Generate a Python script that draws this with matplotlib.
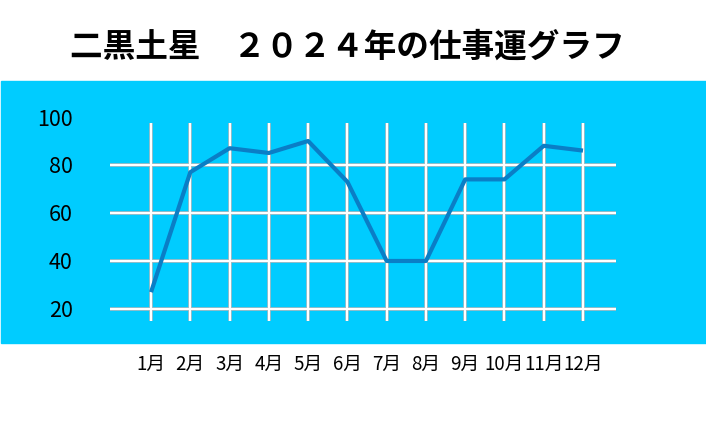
import matplotlib
matplotlib.use('Agg')
import matplotlib.pyplot as plt
from matplotlib.patches import Rectangle

plt.rcParams['font.family'] = ['Noto Sans CJK JP', 'DejaVu Sans']

months = ['1月', '2月', '3月', '4月', '5月', '6月', '7月', '8月', '9月', '10月', '11月', '12月']
scores = [27, 77, 87, 85, 90, 73, 40, 40, 74, 74, 88, 86]
y_ticks = [20, 40, 60, 80, 100]
grid_rows = [20, 40, 60, 80]
title = '二黒土星　２０２４年の仕事運グラフ'

fig = plt.figure(figsize=(7.06, 4.23), dpi=100)
band = Rectangle((0.0015, 0.189), 1, 0.6195, transform=fig.transFigure,
                 color='#00ccff', zorder=-10)
fig.patches.append(band)

ax = fig.add_axes([0.1558, 0.2418, 0.7167, 0.4816])
ax.patch.set_alpha(0)
for s in ax.spines.values():
    s.set_visible(False)

x = list(range(1, len(months) + 1))
ax.set_xlim(-0.045, 12.84)
ax.set_ylim(15.1, 100)

# grid lines: white with a thin grey edge
for y in grid_rows:
    ax.axhline(y, color='#a9b8bd', lw=2.6, zorder=1)
    ax.axhline(y, color='white', lw=1.5, zorder=2)
ax.vlines(x, 15.1, 97.5, color='#a9b8bd', lw=2.6, zorder=1)
ax.vlines(x, 15.1, 97.5, color='white', lw=1.5, zorder=2)

ax.plot(x, scores, color='#0a7ec6', lw=3, zorder=3, solid_capstyle='butt')

ax.set_xticks(x)
ax.set_xticklabels(months, fontsize=13.5)
ax.set_yticks(y_ticks)
ax.set_yticklabels([str(v) for v in y_ticks], fontsize=15.5)
ax.tick_params(axis='x', length=0, pad=24)
ax.tick_params(axis='y', length=0, pad=27)

fig.text(0.492, 0.889, title, ha='center', va='center', fontsize=23.5,
         fontweight='bold', color='black')

fig.savefig('out.png', dpi=100)
